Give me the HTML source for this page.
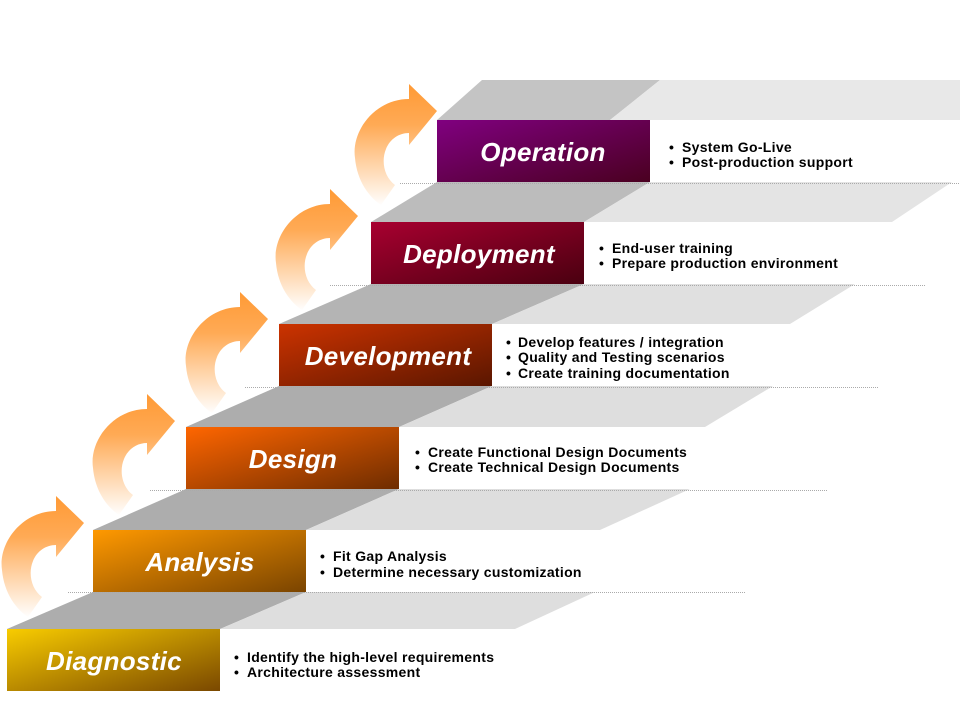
<!DOCTYPE html>
<html><head><meta charset="utf-8"><style>
html,body{margin:0;padding:0;background:#fff;width:960px;height:720px;overflow:hidden}
svg{display:block}
.lbl{font-family:"Liberation Sans",sans-serif;font-weight:bold;font-style:italic;font-size:26px;fill:#fff;text-anchor:middle;letter-spacing:0.3px}
.b{font-family:"Liberation Sans",sans-serif;font-weight:bold;font-size:14px;fill:#000;letter-spacing:0.3px}
</style></head><body>
<svg width="960" height="720" viewBox="0 0 960 720" xmlns="http://www.w3.org/2000/svg">
<defs>
<linearGradient id="g0" x1="0" y1="0" x2="1" y2="1"><stop offset="0" stop-color="#f8cc00"/><stop offset="1" stop-color="#7a4800"/></linearGradient>
<linearGradient id="g1" x1="0" y1="0" x2="1" y2="1"><stop offset="0" stop-color="#ff9900"/><stop offset="1" stop-color="#7a4400"/></linearGradient>
<linearGradient id="g2" x1="0" y1="0" x2="1" y2="1"><stop offset="0" stop-color="#ff6600"/><stop offset="1" stop-color="#6e2c00"/></linearGradient>
<linearGradient id="g3" x1="0" y1="0" x2="1" y2="1"><stop offset="0" stop-color="#cc3300"/><stop offset="1" stop-color="#5a1600"/></linearGradient>
<linearGradient id="g4" x1="0" y1="0" x2="1" y2="1"><stop offset="0" stop-color="#a80030"/><stop offset="1" stop-color="#4a0010"/></linearGradient>
<linearGradient id="g5" x1="0" y1="0" x2="1" y2="1"><stop offset="0" stop-color="#800080"/><stop offset="1" stop-color="#4a0020"/></linearGradient>
<linearGradient id="ar" x1="0" y1="-30" x2="0" y2="95" gradientUnits="userSpaceOnUse"><stop offset="0" stop-color="#ff9933"/><stop offset="0.35" stop-color="#ffaa55"/><stop offset="1" stop-color="#ffffff"/></linearGradient>
<path id="arrow" d="M-28,-12 C-62,-12 -86,20 -82,47 C-80,70 -68,86 -56,94 L-42,74 C-53,66 -56,50 -51,38 C-47,28 -38,22 -28,22 L-28,34 L0,0 L-28,-27 Z" fill="url(#ar)"/>
</defs>

<polygon points="7,629 220,629 306,592 93,592" fill="#adadad"/>
<polygon points="220,629 515,629 595,592 306,592" fill="#dedede"/>
<polygon points="93,530 306,530 399,489 186,489" fill="#adadad"/>
<polygon points="306,530 600,530 690,489 399,489" fill="#dedede"/>
<polygon points="186,427 399,427 492,386 279,386" fill="#adadad"/>
<polygon points="399,427 705,427 773,386 492,386" fill="#dedede"/>
<polygon points="279,324 492,324 584,284 371,284" fill="#b4b4b4"/>
<polygon points="492,324 790,324 855,284 584,284" fill="#e0e0e0"/>
<polygon points="371,222 584,222 650,182 437,182" fill="#bcbcbc"/>
<polygon points="584,222 892,222 952,182 650,182" fill="#e4e4e4"/>
<polygon points="437,120 610,120 660,80 482,80" fill="#c4c4c4"/>
<polygon points="610,120 960,120 960,80 660,80" fill="#e8e8e8"/>

<g stroke="#aaa" stroke-width="1" stroke-dasharray="1,1">
<line x1="68" y1="592.5" x2="745" y2="592.5"/>
<line x1="150" y1="490.5" x2="828" y2="490.5"/>
<line x1="245" y1="387.5" x2="878" y2="387.5"/>
<line x1="330" y1="285.5" x2="925" y2="285.5"/>
<line x1="400" y1="183.5" x2="960" y2="183.5"/>
</g>

<use href="#arrow" transform="translate(84,523)"/>
<use href="#arrow" transform="translate(175,421)"/>
<use href="#arrow" transform="translate(268,319)"/>
<use href="#arrow" transform="translate(358,216)"/>
<use href="#arrow" transform="translate(437,111)"/>

<rect x="7" y="629" width="213" height="62" fill="url(#g0)"/>
<rect x="93" y="530" width="213" height="62" fill="url(#g1)"/>
<rect x="186" y="427" width="213" height="62" fill="url(#g2)"/>
<rect x="279" y="324" width="213" height="62" fill="url(#g3)"/>
<rect x="371" y="222" width="213" height="62" fill="url(#g4)"/>
<rect x="437" y="120" width="213" height="62" fill="url(#g5)"/>

<text class="lbl" x="114" y="670">Diagnostic</text>
<text class="lbl" x="200" y="571">Analysis</text>
<text class="lbl" x="293" y="468">Design</text>
<text class="lbl" x="388" y="365">Development</text>
<text class="lbl" x="479" y="263">Deployment</text>
<text class="lbl" x="543" y="161">Operation</text>

<text class="b" x="234" y="662">•</text><text class="b" x="247" y="662">Identify the high-level requirements</text>
<text class="b" x="234" y="677">•</text><text class="b" x="247" y="677">Architecture assessment</text>
<text class="b" x="320" y="561">•</text><text class="b" x="333" y="561">Fit Gap Analysis</text>
<text class="b" x="320" y="577">•</text><text class="b" x="333" y="577">Determine necessary customization</text>
<text class="b" x="415" y="457">•</text><text class="b" x="428" y="457">Create Functional Design Documents</text>
<text class="b" x="415" y="472">•</text><text class="b" x="428" y="472">Create Technical Design Documents</text>
<text class="b" x="506" y="347">•</text><text class="b" x="518" y="347">Develop features / integration</text>
<text class="b" x="506" y="362">•</text><text class="b" x="518" y="362">Quality and Testing scenarios</text>
<text class="b" x="506" y="378">•</text><text class="b" x="518" y="378">Create training documentation</text>
<text class="b" x="599" y="253">•</text><text class="b" x="612" y="253">End-user training</text>
<text class="b" x="599" y="268">•</text><text class="b" x="612" y="268">Prepare production environment</text>
<text class="b" x="669" y="152">•</text><text class="b" x="682" y="152">System Go-Live</text>
<text class="b" x="669" y="167">•</text><text class="b" x="682" y="167">Post-production support</text>
</svg>
</body></html>
